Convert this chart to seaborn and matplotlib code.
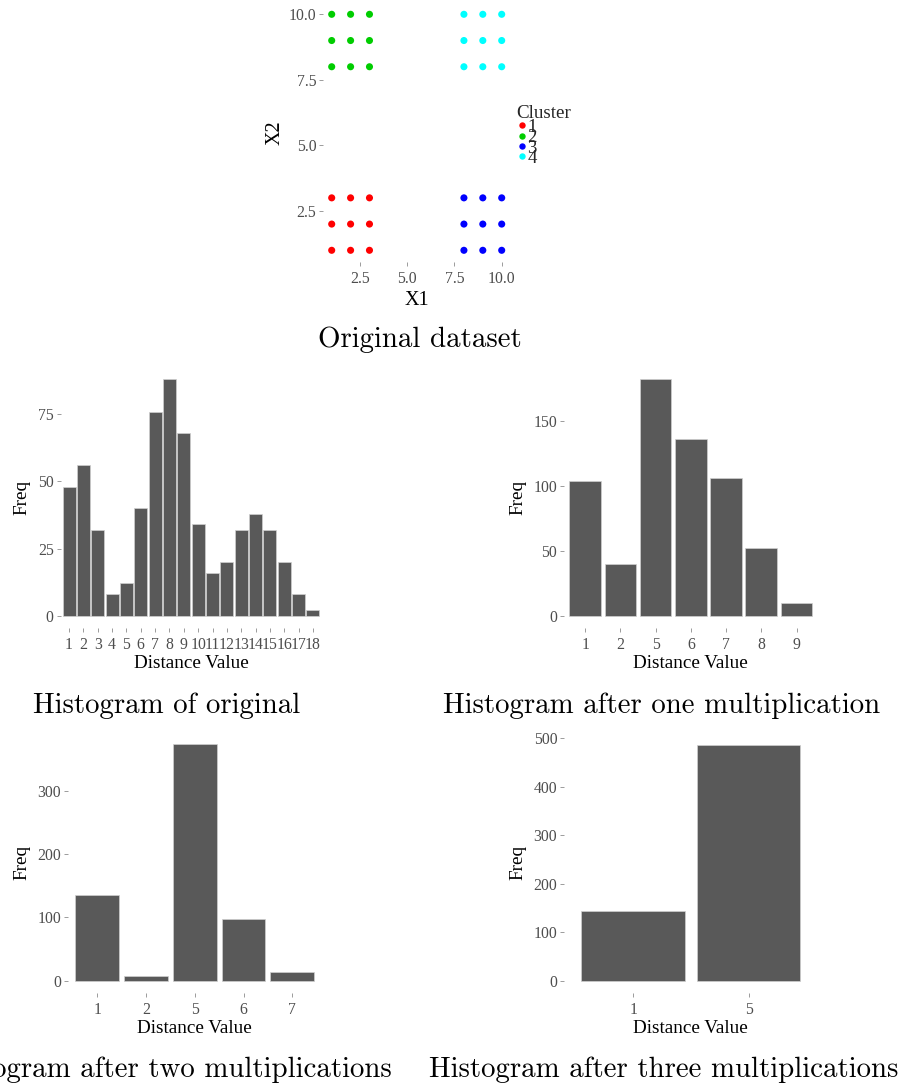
import matplotlib
matplotlib.use("Agg")
import matplotlib.pyplot as plt
import seaborn as sns
import pandas as pd

# ---- data -------------------------------------------------------------
x1 = [1, 2, 3, 1, 2, 3, 1, 2, 3,
      1, 2, 3, 1, 2, 3, 1, 2, 3,
      8, 9, 10, 8, 9, 10, 8, 9, 10,
      8, 9, 10, 8, 9, 10, 8, 9, 10]
x2 = [1, 1, 1, 2, 2, 2, 3, 3, 3,
      8, 8, 8, 9, 9, 9, 10, 10, 10,
      1, 1, 1, 2, 2, 2, 3, 3, 3,
      8, 8, 8, 9, 9, 9, 10, 10, 10]
cluster = ["1"] * 9 + ["2"] * 9 + ["3"] * 9 + ["4"] * 9
cluster_colors = {"1": "#FF0000", "2": "#00CD00", "3": "#0000FF", "4": "#00FFFF"}

dist_original = ["1", "2", "3", "4", "5", "6", "7", "8", "9", "10",
                 "11", "12", "13", "14", "15", "16", "17", "18"]
freq_original = [48, 56, 32, 8, 12, 40, 76, 88, 68, 34,
                 16, 20, 32, 38, 32, 20, 8, 2]

dist_one = ["1", "2", "5", "6", "7", "8", "9"]
freq_one = [104, 40, 182, 136, 106, 52, 10]

dist_two = ["1", "2", "5", "6", "7"]
freq_two = [136, 8, 374, 98, 14]

dist_three = ["1", "5"]
freq_three = [144, 486]

captions = ["Original dataset", "Histogram of original",
            "Histogram after one multiplication",
            "Histogram after two multiplications",
            "Histogram after three multiplications"]

# ---- style ------------------------------------------------------------
sns.set_theme(style="white")
plt.rcParams["font.family"] = ["Liberation Serif", "DejaVu Serif"]

W, H = 901, 1086
fig = plt.figure(figsize=(W / 100, H / 100), dpi=100)

TICK_COLOR = "#8c8c8c"
LABEL_COLOR = "#4D4D4D"
BAR_COLOR = "#595959"


def px_axes(left, top, right, bottom):
    return fig.add_axes([left / W, 1 - bottom / H, (right - left) / W, (bottom - top) / H])


def style_axes(ax):
    for s in ax.spines.values():
        s.set_visible(False)
    ax.set_facecolor("white")
    ax.grid(False)
    ax.tick_params(axis="both", which="major", length=2.6, width=0.6,
                   color=TICK_COLOR, labelcolor=LABEL_COLOR, labelsize=11.3,
                   bottom=True, left=True)
    ax.tick_params(axis="x", pad=4.0)
    ax.tick_params(axis="y", pad=2.3)


# ---- scatter of clusters ---------------------------------------------
ax0 = px_axes(323.2, 2.5, 510.2, 262.1)
df = pd.DataFrame({"X1": x1, "X2": x2, "Cluster": cluster})
sns.scatterplot(data=df, x="X1", y="X2", hue="Cluster", palette=cluster_colors,
                s=26, linewidth=0, ax=ax0)
ax0.set_xlim(0.55, 10.45)
ax0.set_ylim(0.55, 10.45)
ax0.set_xticks([2.5, 5.0, 7.5, 10.0])
ax0.set_xticklabels(["2.5", "5.0", "7.5", "10.0"])
ax0.set_yticks([2.5, 5.0, 7.5, 10.0])
ax0.set_yticklabels(["2.5", "5.0", "7.5", "10.0"])
style_axes(ax0)
ax0.set_xlabel("X1", fontsize=14.5, color="black", labelpad=3)
ax0.set_ylabel("X2", fontsize=14.5, color="black", labelpad=3)
sns.move_legend(ax0, "upper left", bbox_to_anchor=(1.035, 0.607), frameon=False,
                title="Cluster", fontsize=13.5, title_fontsize=13.7,
                labelspacing=-0.36, handletextpad=0.02, handlelength=0.55,
                borderpad=0, borderaxespad=0, markerscale=0.9)
leg = ax0.get_legend()
leg._legend_box.align = "left"
leg._legend_box.sep = -2.0

# ---- histograms -------------------------------------------------------
def hist_panel(box, cats, vals, ylim, yticks):
    ax = px_axes(*box)
    sns.barplot(x=cats, y=vals, color=BAR_COLOR, saturation=1, width=0.9,
                edgecolor="#d0d0d0", linewidth=0.5, ax=ax)
    ax.set_xlim(-0.6, len(cats) - 0.4)
    ax.set_ylim(*ylim)
    ax.set_yticks(yticks)
    ax.set_yticklabels([str(t) for t in yticks])
    style_axes(ax)
    ax.set_xlabel("Distance Value", fontsize=13.8, color="black", labelpad=2)
    ax.set_ylabel("Freq", fontsize=13.8, color="black", labelpad=5)
    return ax


hist_panel((60.5, 367.6, 321.5, 627.5), dist_original, freq_original,
           (-4.4, 92.4), [0, 25, 50, 75])
hist_panel((564.0, 367.3, 817.7, 627.5), dist_one, freq_one,
           (-9.1, 191.1), [0, 50, 100, 150])
hist_panel((68.0, 732.1, 321.5, 992.5), dist_two, freq_two,
           (-18.7, 392.7), [0, 100, 200, 300])
hist_panel((564.0, 733.0, 817.7, 992.5), dist_three, freq_three,
           (-24.3, 510.3), [0, 100, 200, 300, 400, 500])

# ---- captions ---------------------------------------------------------
caption_pos = [(419.5, 346.7), (166.7, 713.3), (661.7, 713.3),
               (165.5, 1076.7), (663.3, 1076.7)]
for text, (cx, cy) in zip(captions, caption_pos):
    fig.text(cx / W, 1 - cy / H, text, ha="center", va="baseline",
             fontsize=20.8, family="cmr10", color="black")

fig.savefig("out.png", dpi=100, facecolor="white")
